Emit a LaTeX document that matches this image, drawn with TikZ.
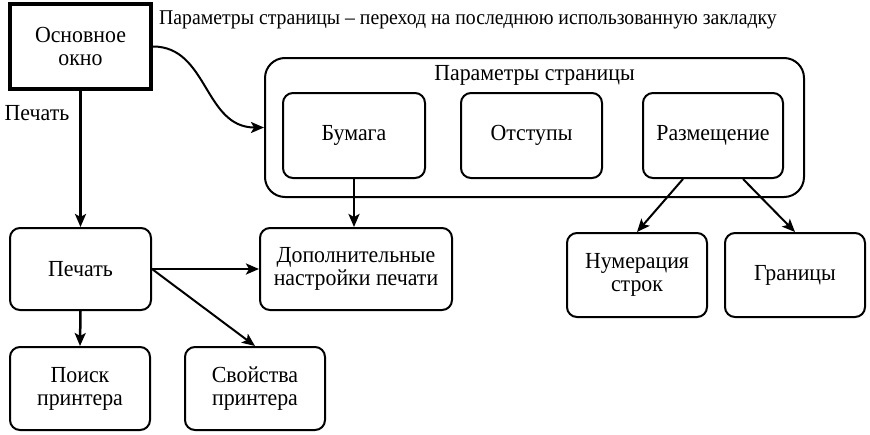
\documentclass[tikz,border=0pt]{standalone}
\usepackage{fontspec}
\setmainfont{Liberation Serif}
\newfontfamily\nodefont{Liberation Serif}[FakeStretch=0.95]
\newfontfamily\labelfont{Liberation Serif}[FakeStretch=0.94]
\usetikzlibrary{arrows.meta}
\begin{document}
\begin{tikzpicture}[x=1pt,y=-1pt,
  every node/.style={font=\nodefont\fontsize{23}{23}\selectfont, inner sep=0pt},
  box/.style={draw, line width=2pt, rounded corners=10pt, align=center},
  mainbox/.style={draw, line width=4pt, align=center},
  cont/.style={draw, line width=2pt, rounded corners=20pt},
  toptext/.style={font=\labelfont\fontsize{21}{23}\selectfont},
  arr/.style={line width=2.5pt, -{Stealth[length=13pt,width=11pt,inset=3pt]}},
  arrthin/.style={line width=2pt, -{Stealth[length=13pt,width=11pt,inset=3pt]}}
]
\useasboundingbox (0,0) rectangle (870,434);

\node[mainbox, minimum width=141pt, minimum height=85pt] (main) at (80.5,46.5) {Основное\\окно};
\node[box, minimum width=141pt, minimum height=82pt] (print) at (80.5,269) {Печать};
\node[box, minimum width=140pt, minimum height=83pt] (search) at (80,388.5) {Поиск\\принтера};
\node[box, minimum width=140pt, minimum height=83pt] (props) at (255,388.5) {Свойства\\принтера};
\node[box, minimum width=192pt, minimum height=82pt] (extra) at (356,269) {Дополнительные\\настройки печати};

\node[cont, minimum width=539pt, minimum height=139pt] (cont) at (534.5,127.5) {};
\node (ctitle) at (534.5,75) {Параметры страницы};
\node[box, minimum width=142pt, minimum height=85pt] (paper) at (354,135.5) {Бумага};
\node[box, minimum width=141pt, minimum height=85pt] (indent) at (531.5,135.5) {Отступы};
\node[box, minimum width=140pt, minimum height=85pt] (place) at (713,135.5) {Размещение};

\node[box, minimum width=140pt, minimum height=84pt] (numer) at (637,275) {Нумерация\\строк};
\node[box, minimum width=140pt, minimum height=84pt] (borders) at (795,275) {Границы};

\node (plabel) at (37,113) {Печать};
\node[toptext, anchor=west] (toplabel) at (159,20) {Параметры страницы – переход на последнюю использованную закладку};

\draw[arr] (main.south) -- (print.north);
\draw[arr] (print.south) -- (search.north);
\draw[arr] (print.east) -- (extra.west);
\draw[arrthin] (print.east) -- (props.north);
\draw[arr] (paper.south) -- (paper.south |- extra.north);
\draw[arrthin] ([xshift=-30pt]place.south) -- (numer.north);
\draw[arrthin] ([xshift=30pt]place.south) -- (borders.north);
\draw[arrthin] (main.east) .. controls +(55,0) and +(-60,0) .. (cont.west);
\end{tikzpicture}
\end{document}
